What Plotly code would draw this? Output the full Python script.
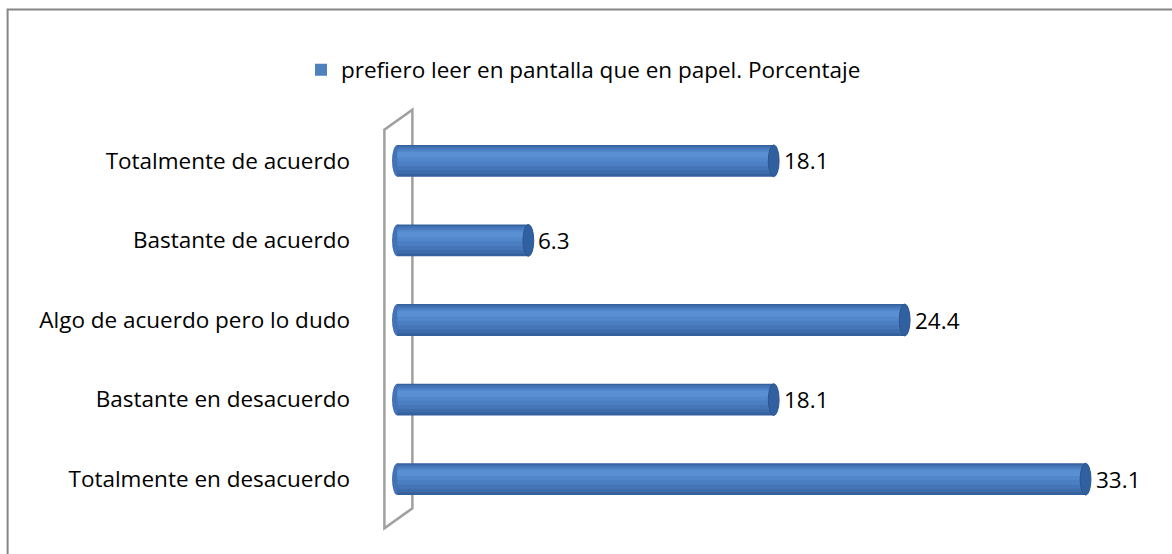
"""Horizontal 3D-cylinder style bar chart: preference for reading on screen."""
import plotly.graph_objects as go

# data (top to bottom, as shown)
categories = [
    "Totalmente de acuerdo",
    "Bastante de acuerdo",
    "Algo de acuerdo pero lo dudo",
    "Bastante en desacuerdo",
    "Totalmente en desacuerdo",
]
values = [18.1, 6.3, 24.4, 18.1, 33.1]
series_name = "prefiero leer en pantalla que en papel. Porcentaje"

W, H = 1172, 554
ML, MR, MT, MB = 386.6, 22, 121.25, 35.25
PW, PH = W - ML - MR, H - MT - MB
FONT = dict(family="Open Sans, Liberation Sans, Arial", size=22.5, color="#000000")


def xp(px):
    return (px - ML) / PW


def yp(py):
    return 1 - (py - MT) / PH


# cylinder shading: (offset, width, colour) layered from the dark rim inwards
BAND = 0.4
layers = [
    (-0.20, 0.40, "#34619d"),
    (-0.185, 0.35, "#3d6cac"),
    (-0.17, 0.29, "#4575b7"),
    (-0.15, 0.22, "#4b7ec2"),
    (-0.13, 0.14, "#5288cb"),
    (-0.11, 0.07, "#5990d3"),
]

fig = go.Figure()
for off, wd, col in layers:
    fig.add_bar(x=values, y=categories, orientation="h", offset=off, width=wd,
                marker=dict(color=col, line_width=0), showlegend=False,
                hoverinfo="x+y")
# legend entry only
fig.add_bar(x=[None], y=[None], orientation="h", name=series_name,
            marker=dict(color="#4f81bd", line_width=0))

shapes = []
# outer chart border
shapes.append(dict(type="rect", xref="paper", yref="paper",
                   x0=xp(7), y0=yp(10), x1=xp(W + 40), y1=yp(H + 40),
                   line=dict(color="#868686", width=2), layer="below"))
# 3D wall outline
shapes.append(dict(type="path", xref="paper", yref="paper", layer="below",
                   path=(f"M{xp(384)},{yp(528)} L{xp(384)},{yp(130)} "
                         f"L{xp(412)},{yp(110)} L{xp(412)},{yp(508)} Z"),
                   line=dict(color="#a0a0a0", width=2.5)))
CAP = 0.26
for i, v in enumerate(values):
    # rounded left end of the cylinder (behind the body)
    shapes.append(dict(type="circle", xref="x", yref="y", layer="below",
                       x0=-CAP, x1=CAP, y0=i - BAND / 2, y1=i + BAND / 2,
                       fillcolor="#4373b4", line_width=0))
    # visible end cap on the right
    shapes.append(dict(type="circle", xref="x", yref="y", layer="above",
                       x0=v - CAP, x1=v + CAP, y0=i - BAND / 2, y1=i + BAND / 2,
                       fillcolor="#30609f", line=dict(color="#2b568f", width=1)))

annotations = [
    dict(x=v, y=c, xref="x", yref="y", text=f"{v:.1f}", showarrow=False,
         xanchor="left", yanchor="middle", xshift=8, font=FONT)
    for c, v in zip(categories, values)
]

fig.update_layout(
    width=W, height=H, margin=dict(l=ML, r=MR, t=MT, b=MB, pad=0),
    paper_bgcolor="white", plot_bgcolor="rgba(0,0,0,0)",
    barmode="overlay", font=FONT, shapes=shapes, annotations=annotations,
    showlegend=True,
    legend=dict(orientation="h", xref="container", yref="container",
                x=301 / W, xanchor="left", y=1 - 70 / H, yanchor="middle",
                font=FONT, itemwidth=30, bgcolor="rgba(0,0,0,0)"),
    xaxis=dict(range=[-0.5, 36.2], visible=False, fixedrange=True),
    yaxis=dict(categoryorder="array", categoryarray=categories,
               autorange="reversed", showgrid=False, zeroline=False,
               showline=False, ticks="", ticklabelstandoff=36,
               tickfont=FONT, fixedrange=True),
)

# drop the page's default body margin so the figure sits at the window origin
fig.write_html("out.html", config={"displayModeBar": False},
               post_script="document.body.style.margin='0';")
